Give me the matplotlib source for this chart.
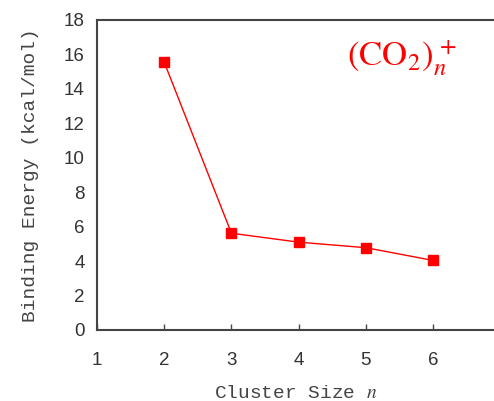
import matplotlib
matplotlib.use("Agg")
import matplotlib.pyplot as plt

cluster_size = [2, 3, 4, 5, 6]
binding_energy = [15.55, 5.62, 5.1, 4.78, 4.04]
x_ticks = [1, 2, 3, 4, 5, 6]
y_ticks = [0, 2, 4, 6, 8, 10, 12, 14, 16, 18]

plt.rcParams["mathtext.fontset"] = "stix"

fig = plt.figure(figsize=(4.94, 4.01), dpi=100)
ax = fig.add_axes([97 / 494, 71 / 401, 1 - 97 / 494, 310 / 401])

ax.plot(cluster_size, binding_energy, color="red", lw=1.0,
        marker="s", ms=6.5, mec="red", mfc="red")

ax.set_xlim(1, 1 + (494 - 97) / 67.2)
ax.set_ylim(0, 18)
ax.set_xticks(x_ticks)
ax.set_yticks(y_ticks)
ax.tick_params(axis="x", direction="in", length=4, width=1, color="#444",
               pad=16, labelsize=13.5, labelcolor="#333")
ax.tick_params(axis="y", direction="in", length=0, pad=9,
               labelsize=13.5, labelcolor="#333")
for lab in ax.get_xticklabels() + ax.get_yticklabels():
    lab.set_family("Liberation Sans")

for side in ("left", "bottom", "top"):
    ax.spines[side].set_color("#444")
    ax.spines[side].set_linewidth(1.5)
ax.spines["right"].set_visible(False)

ax.set_xlabel("Cluster Size $\\it{n}$", family="Liberation Mono",
              fontsize=14, color="#444", labelpad=11)
ax.set_ylabel("Binding Energy (kcal/mol)", family="Liberation Mono",
              fontsize=14, color="#444", labelpad=18)

# species label, left edge near n=4.7, baseline ~15.3
ax.text(4.72, 15.3, r"$\mathrm{(CO_2)}_n^{\,+}$", color="red",
        fontsize=25, ha="left", va="baseline")

fig.savefig("out.png", dpi=100)
